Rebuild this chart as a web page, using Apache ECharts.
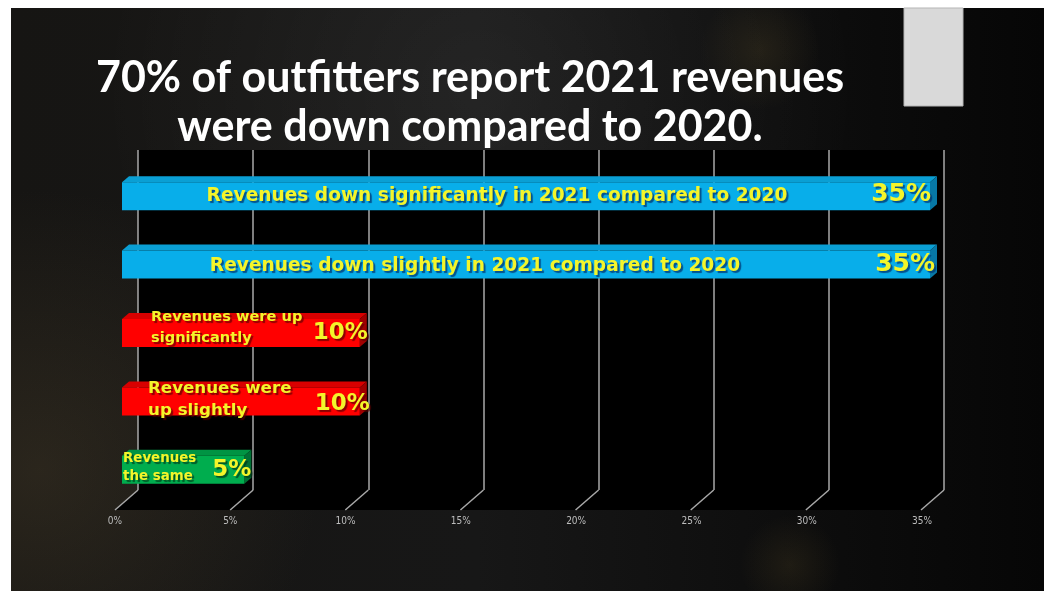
<!DOCTYPE html>
<html>
<head>
<meta charset="utf-8">
<script src="https://cdn.jsdelivr.net/npm/echarts@6/dist/echarts.min.js"></script>
<style>
html,body{margin:0;padding:0;background:#fff;}
#c{width:1044px;height:591px;}
</style>
</head>
<body>
<div id="c"></div>
<script>
// ---- data ----
var titleLines = ['70% of outfitters report 2021 revenues', 'were down compared to 2020.'];
var categories = [
  'Revenues down significantly in 2021 compared to 2020',
  'Revenues down slightly in 2021 compared to 2020',
  'Revenues were up\nsignificantly',
  'Revenues were\nup slightly',
  'Revenues\nthe same'
];
var values = [35, 35, 10.3, 10.3, 5.3];
var valueLabels = ['35%', '35%', '10%', '10%', '5%'];
var tickValues = [0, 5, 10, 15, 20, 25, 30, 35];
var axisMin = 0, axisMax = 35, axisStep = 5;

// ---- styles (not data) ----
var barColors = [
  {front:'#08aeea', top:'#0a9fd4', side:'#0778a6', shadow:'rgba(0,50,110,0.75)'},
  {front:'#08aeea', top:'#0a9fd4', side:'#0778a6', shadow:'rgba(0,50,110,0.75)'},
  {front:'#ff0000', top:'#d80000', side:'#a00000', shadow:'rgba(90,0,0,0.7)'},
  {front:'#ff0000', top:'#d80000', side:'#a00000', shadow:'rgba(90,0,0,0.7)'},
  {front:'#00ad4e', top:'#009443', side:'#007034', shadow:'rgba(0,50,20,0.7)'}
];
// label layout: name anchor offset from bar start, alignment, font size, line height; value label offset from bar end
var labelLayout = [
  {dx:375, dy:0,  align:'center', size:18.6, lh:20, vdx:1,  vsize:25, vdy:-2},
  {dx:353, dy:2,  align:'center', size:18.6, lh:20, vdx:5,  vsize:25, vdy:0},
  {dx:29,  dy:-5, align:'left',   size:14.6, lh:21, vdx:8,  vsize:23, vdy:0},
  {dx:26,  dy:-2, align:'left',   size:16.7, lh:22, vdx:10, vsize:23, vdy:3},
  {dx:1,   dy:-2, align:'left',   size:13.4, lh:18, vdx:7,  vsize:23, vdy:0}
];
var DEPTH_X = 23, DEPTH_Y = 20;   // floor depth (back wall -> front)
var BAR_DX = 7, BAR_DY = 6, BAR_H = 28;
var labelFont = '"DejaVu Sans", sans-serif';

var chart = echarts.init(document.getElementById('c'), null, {renderer:'canvas'});

var option = {
  backgroundColor: '#ffffff',
  animation: false,
  graphic: [
    {type:'rect', z:-10, shape:{x:11, y:8, width:1033, height:583},
     style:{fill:{type:'linear', x:0, y:0, x2:1, y2:0, colorStops:[
        {offset:0, color:'#161513'}, {offset:0.45, color:'#171717'}, {offset:1, color:'#060606'}]}}},
    {type:'circle', z:-9, shape:{cx:40, cy:470, r:280},
     style:{fill:{type:'radial', x:0.5, y:0.5, r:0.5, colorStops:[
        {offset:0, color:'rgba(90,76,50,0.3)'}, {offset:1, color:'rgba(90,76,50,0)'}]}}},
    {type:'circle', z:-9, shape:{cx:480, cy:90, r:380},
     style:{fill:{type:'radial', x:0.5, y:0.5, r:0.5, colorStops:[
        {offset:0, color:'rgba(255,255,255,0.06)'}, {offset:1, color:'rgba(255,255,255,0)'}]}}},
    {type:'circle', z:-9, shape:{cx:760, cy:50, r:60},
     style:{fill:{type:'radial', x:0.5, y:0.5, r:0.5, colorStops:[
        {offset:0, color:'rgba(120,100,50,0.18)'}, {offset:1, color:'rgba(120,100,50,0)'}]}}},
    {type:'circle', z:-9, shape:{cx:790, cy:565, r:50},
     style:{fill:{type:'radial', x:0.5, y:0.5, r:0.5, colorStops:[
        {offset:0, color:'rgba(120,100,50,0.16)'}, {offset:1, color:'rgba(120,100,50,0)'}]}}},
    // white page margins
    {type:'rect', z:-8, shape:{x:0, y:0, width:11, height:591}, style:{fill:'#ffffff'}},
    {type:'rect', z:-8, shape:{x:0, y:0, width:1044, height:8}, style:{fill:'#ffffff'}},
    {type:'rect', z:5, shape:{x:904, y:8, width:59, height:98},
     style:{fill:'#d9d9d9', stroke:'#b5b5b5', lineWidth:1}},
    {type:'text', z:5, x:470, y:78,
     style:{text:titleLines[0], fill:'#ffffff', font:'bold 43px Lato, sans-serif', align:'center', verticalAlign:'middle'}},
    {type:'text', z:5, x:470, y:127,
     style:{text:titleLines[1], fill:'#ffffff', font:'bold 43px Lato, sans-serif', align:'center', verticalAlign:'middle'}}
  ],
  grid: [
    {left:138, width:806, top:150, height:340, show:true, backgroundColor:'#000000', borderWidth:0},
    {left:115, width:807, top:150, height:360, show:false},
    {left:122, width:808, top:162, height:342, show:false}
  ],
  xAxis: [
    {gridIndex:0, type:'value', min:axisMin, max:axisMax, interval:axisStep,
     axisLine:{show:false}, axisTick:{show:false}, axisLabel:{show:false},
     splitLine:{show:true, lineStyle:{color:'#a8a8a8', width:1.5}}},
    {gridIndex:1, type:'value', min:axisMin, max:axisMax, interval:axisStep,
     axisLine:{show:false}, axisTick:{show:false}, splitLine:{show:false},
     axisLabel:{show:true, formatter:'{value}%', color:'#bdbdbd', fontSize:10,
       fontFamily:'"DejaVu Sans Condensed", "Liberation Sans Narrow", sans-serif', margin:6}},
    {gridIndex:2, type:'value', min:axisMin, max:axisMax, show:false}
  ],
  yAxis: [
    {gridIndex:0, type:'value', min:0, max:1, show:false},
    {gridIndex:1, type:'value', min:0, max:1, show:false},
    {gridIndex:2, type:'category', data:categories, inverse:true, show:false}
  ],
  series: [
    // floor
    {type:'custom', xAxisIndex:0, yAxisIndex:0, z:1, silent:true,
     data:[[axisMin, axisMax]],
     renderItem:function(params, api){
       var a = api.coord([api.value(0), 0]);
       var b = api.coord([api.value(1), 0]);
       return {type:'polygon', shape:{points:[a, b, [b[0]-DEPTH_X, b[1]+DEPTH_Y], [a[0]-DEPTH_X, a[1]+DEPTH_Y]]},
               style:{fill:'#000000'}};
     }},
    // floor diagonal grid lines
    {type:'custom', xAxisIndex:0, yAxisIndex:0, z:2, silent:true,
     data:tickValues.map(function(v){return [v];}),
     renderItem:function(params, api){
       var p = api.coord([api.value(0), 0]);
       return {type:'line', shape:{x1:p[0], y1:p[1], x2:p[0]-DEPTH_X, y2:p[1]+DEPTH_Y},
               style:{stroke:'#a8a8a8', lineWidth:1.5}};
     }},
    // 3D bars
    {type:'custom', xAxisIndex:2, yAxisIndex:2, z:3, silent:true,
     data:values.map(function(v, i){return [v, i];}),
     renderItem:function(params, api){
       var i = params.dataIndex;
       var s = api.coord([0, api.value(1)]);
       var e = api.coord([api.value(0), api.value(1)]);
       var cy = s[1];
       var x0 = s[0], x1 = e[0];
       var t = cy - BAR_H/2, bm = cy + BAR_H/2;
       var c = barColors[i], L = labelLayout[i];
       var shadow = {textShadowColor:c.shadow, textShadowOffsetX:2, textShadowOffsetY:2, textShadowBlur:1};
       var nameStyle = Object.assign({text:categories[i], fill:'#f4f52a',
           font:'bold ' + L.size + 'px ' + labelFont, lineHeight:L.lh,
           align:L.align, verticalAlign:'middle'}, shadow);
       var valStyle = Object.assign({text:valueLabels[i], fill:'#f4f52a',
           font:'bold ' + L.vsize + 'px ' + labelFont, align:'right', verticalAlign:'middle'}, shadow);
       return {type:'group', children:[
         {type:'polygon', shape:{points:[[x0, t], [x0+BAR_DX, t-BAR_DY], [x1+BAR_DX, t-BAR_DY], [x1, t]]},
          style:{fill:c.top}},
         {type:'polygon', shape:{points:[[x1, t], [x1+BAR_DX, t-BAR_DY], [x1+BAR_DX, bm-BAR_DY], [x1, bm]]},
          style:{fill:c.side}},
         {type:'rect', shape:{x:x0, y:t, width:x1-x0, height:BAR_H}, style:{fill:c.front}},
         {type:'text', x:x0 + L.dx, y:cy + L.dy, style:nameStyle},
         {type:'text', x:x1 + L.vdx, y:cy + L.vdy, style:valStyle}
       ]};
     }}
  ]
};
chart.setOption(option);
</script>
</body>
</html>
